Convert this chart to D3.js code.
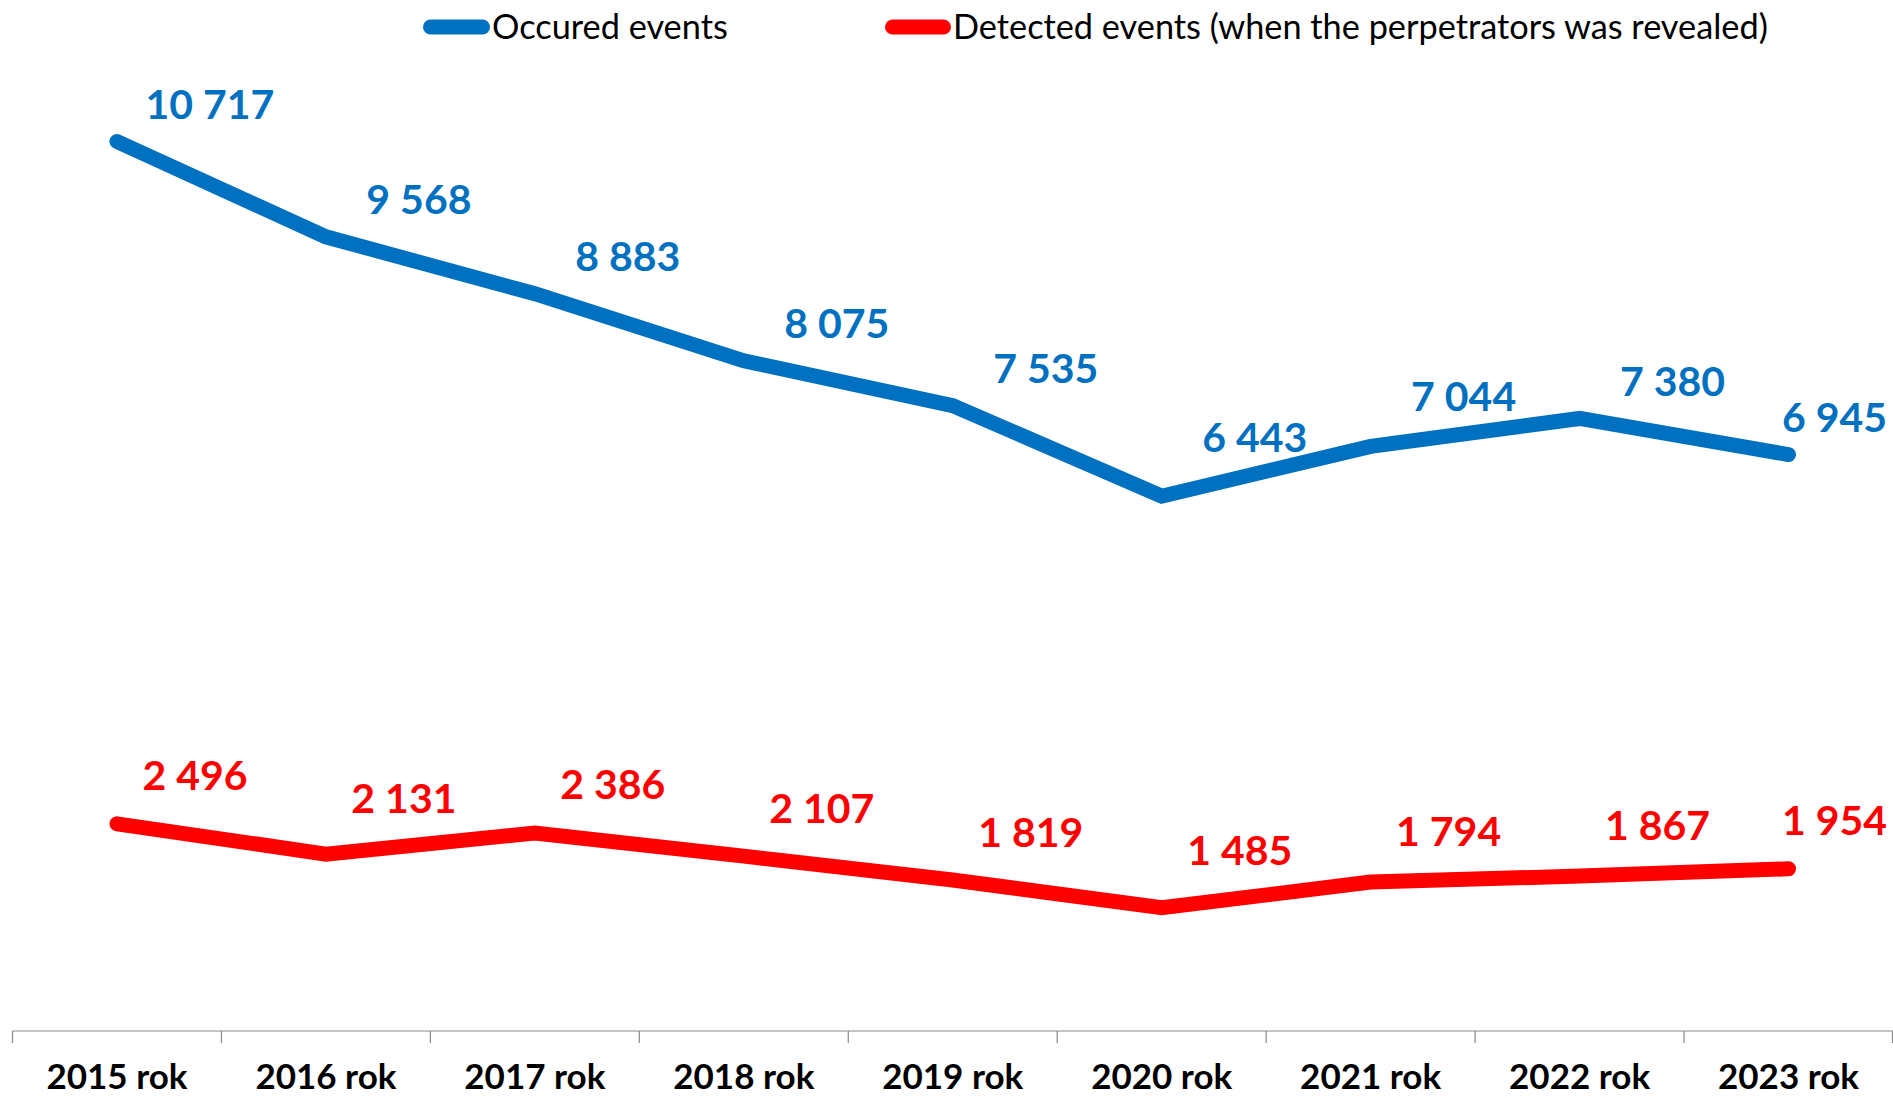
<!DOCTYPE html>
<html lang="en">
<head>
  <meta charset="UTF-8">
  <title>Occured and detected events</title>
  <script src="https://d3js.org/d3.v7.min.js"></script>
  <style>
    body {
      margin: 0;
      background-color: #ffffff;
      font-family: Lato, "Open Sans", sans-serif;
    }
    svg { display: block; }
    .legend-text { font-size: 34.3px; fill: #000; }
    .axis-label { font-size: 35px; font-weight: bold; fill: #000; }
    .value-label { font-size: 41px; font-weight: bold; }
  </style>
</head>
<body>
  <svg id="chart"></svg>
  <script>
    // data
    const years = ["2015 rok", "2016 rok", "2017 rok", "2018 rok", "2019 rok",
                   "2020 rok", "2021 rok", "2022 rok", "2023 rok"];
    const occured = [10717, 9568, 8883, 8075, 7535, 6443, 7044, 7380, 6945];
    const detected = [2496, 2131, 2386, 2107, 1819, 1485, 1794, 1867, 1954];
    const seriesNames = ["Occured events", "Detected events (when the perpetrators was revealed)"];

    const width = 1893, height = 1098;

    const svg = d3.select("#chart")
      .attr("width", width)
      .attr("height", height);

    // scales
    const x = d3.scaleBand()
      .domain(years)
      .range([12.5, width])
      .padding(0);

    const y = d3.scaleLinear()
      .domain([0, 12000])
      .range([1031, 35]);

    const cx = d => x(d) + x.bandwidth() / 2;

    // number format with space as thousands separator
    const fmt = d3.formatLocale({ decimal: ",", thousands: " ", grouping: [3], currency: ["", ""] }).format(",d");

    // category axis
    const axisY = y(0);
    svg.append("line")
      .attr("x1", x.range()[0]).attr("x2", width)
      .attr("y1", axisY).attr("y2", axisY)
      .attr("stroke", "#898989")
      .attr("stroke-width", 1.2);

    // tick marks sit on the band boundaries
    const edges = years.map(d => x(d)).concat([x.range()[1] - 0.5]);
    svg.selectAll(".tick-mark")
      .data(edges)
      .enter().append("line")
      .attr("class", "tick-mark")
      .attr("x1", d => d).attr("x2", d => d)
      .attr("y1", axisY).attr("y2", axisY + 12)
      .attr("stroke", "#898989")
      .attr("stroke-width", 1.2);

    svg.selectAll(".axis-label")
      .data(years)
      .enter().append("text")
      .attr("class", "axis-label")
      .attr("x", d => cx(d))
      .attr("y", 1089)
      .attr("text-anchor", "middle")
      .text(d => d);

    const series = [
      { name: seriesNames[0], values: occured, color: "#0070C0", dx: 93, gap: 38 },
      { name: seriesNames[1], values: detected, color: "#FF0000", dx: 78, gap: 49 }
    ];

    const line = d3.line()
      .x((v, i) => cx(years[i]))
      .y(v => y(v));

    // y of the line at a given x (between two points)
    function lineYAt(values, px) {
      const step = x.bandwidth();
      const f = (px - cx(years[0])) / step;
      const i = Math.max(0, Math.min(values.length - 2, Math.floor(f)));
      const t = Math.max(0, Math.min(1, f - i));
      return y(values[i]) + (y(values[i + 1]) - y(values[i])) * t;
    }

    series.forEach(s => {
      svg.append("path")
        .datum(s.values)
        .attr("fill", "none")
        .attr("stroke", s.color)
        .attr("stroke-width", 15)
        .attr("stroke-linejoin", "miter")
        .attr("stroke-linecap", "round")
        .attr("d", line);

      svg.selectAll(null)
        .data(s.values)
        .enter().append("text")
        .attr("class", "value-label")
        .attr("fill", s.color)
        .attr("text-anchor", "middle")
        .attr("dominant-baseline", "central")
        .attr("x", (v, i) => cx(years[i]) + s.dx)
        .text(v => fmt(v))
        .each(function(v, i) {
          // keep labels inside the right edge
          const w = this.getComputedTextLength();
          let xc = +this.getAttribute("x");
          if (xc + w / 2 > width - 6) xc = width - 6 - w / 2;
          this.setAttribute("x", xc);
          // sit above the line, both at the point and under the label
          const top = Math.min(y(v), lineYAt(s.values, xc));
          this.setAttribute("y", top - s.gap);
        });
    });

    // legend
    const legendItems = [
      { name: seriesNames[0], color: "#0070C0", x0: 423, x1: 490 },
      { name: seriesNames[1], color: "#FF0000", x0: 885, x1: 951 }
    ];
    legendItems.forEach(l => {
      svg.append("line")
        .attr("x1", l.x0 + 7.5).attr("x2", l.x1 - 7.5)
        .attr("y1", 27).attr("y2", 27)
        .attr("stroke", l.color)
        .attr("stroke-width", 15)
        .attr("stroke-linecap", "round");
      svg.append("text")
        .attr("class", "legend-text")
        .attr("x", l.x1 + 2)
        .attr("y", 39)
        .text(l.name);
    });
  </script>
</body>
</html>
